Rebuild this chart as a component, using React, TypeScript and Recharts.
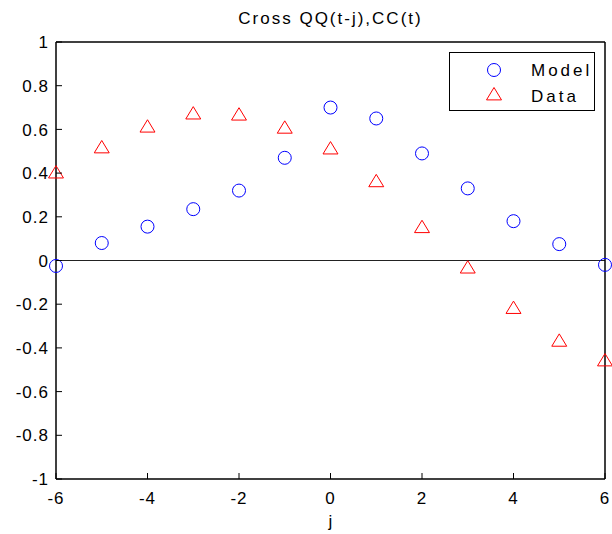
import React from 'react';
import { ScatterChart, Scatter, XAxis, YAxis, ReferenceLine, Legend } from 'recharts';

const lags = [-6, -5, -4, -3, -2, -1, 0, 1, 2, 3, 4, 5, 6];
const modelValues = [-0.025, 0.08, 0.155, 0.235, 0.32, 0.47, 0.7, 0.65, 0.49, 0.33, 0.18, 0.075, -0.02];
const dataValues = [0.4, 0.515, 0.61, 0.67, 0.665, 0.605, 0.51, 0.36, 0.15, -0.035, -0.22, -0.37, -0.46];
const xTicks = [-6, -4, -2, 0, 2, 4, 6];
const yTicks = [-1, -0.8, -0.6, -0.4, -0.2, 0, 0.2, 0.4, 0.6, 0.8, 1];

const modelPoints = lags.map((j, i) => ({ j, v: modelValues[i] }));
const dataPoints = lags.map((j, i) => ({ j, v: dataValues[i] }));

const FONT = '"Liberation Sans", Arial, sans-serif';
const fmt = (v: number) => String(Math.round(v * 10) / 10);
const axisLine = { stroke: '#000', strokeWidth: 1.5 };

const CircleMark = (props: any) => (
  <circle cx={props.cx} cy={props.cy} r={6.5} fill="none" stroke="#0000ff" strokeWidth={1} />
);

const TriangleMark = (props: any) => {
  const { cx, cy } = props;
  const h = 6.5;
  return (
    <polygon
      points={`${cx},${cy - h * 1.15} ${cx - h * 1.15},${cy + h * 0.75} ${cx + h * 1.15},${cy + h * 0.75}`}
      fill="none"
      stroke="#ff0000"
      strokeWidth={1}
    />
  );
};

const BottomTick = (props: any) => (
  <g>
    <line x1={props.x} y1={props.y} x2={props.x} y2={props.y - 6} stroke="#000" />
    <text x={props.x} y={props.y + 25} textAnchor="middle" fontSize={17} fontFamily={FONT} fill="#000" letterSpacing={1}>
      {fmt(props.payload.value)}
    </text>
  </g>
);

const TopTick = (props: any) => (
  <line x1={props.x} y1={props.y} x2={props.x} y2={props.y + 6} stroke="#000" />
);

const LeftTick = (props: any) => (
  <g>
    <line x1={props.x} y1={props.y} x2={props.x + 6} y2={props.y} stroke="#000" />
    <text x={props.x - 7} y={props.y} dy="0.36em" textAnchor="end" fontSize={17} fontFamily={FONT} fill="#000" letterSpacing={1}>
      {fmt(props.payload.value)}
    </text>
  </g>
);

const RightTick = (props: any) => (
  <line x1={props.x} y1={props.y} x2={props.x - 6} y2={props.y} stroke="#000" />
);

const LegendBox = () => (
  <div
    style={{
      width: 144,
      height: 57,
      border: '1px solid #000',
      background: '#fff',
      fontFamily: FONT,
      fontSize: 17,
      position: 'relative',
    }}
  >
    <svg width={144} height={57} style={{ position: 'absolute', left: 0, top: 0 }}>
      <circle cx={44} cy={17} r={6.5} fill="none" stroke="#0000ff" />
      <polygon points="44,34.5 36.5,46.9 51.5,46.9" fill="none" stroke="#ff0000" />
      <text x={81} y={23} fontSize={17} fontFamily={FONT} letterSpacing={3}>Model</text>
      <text x={81} y={49} fontSize={17} fontFamily={FONT} letterSpacing={3}>Data</text>
    </svg>
  </div>
);

export default function App() {
  return (
    <div style={{ position: 'absolute', left: 0, top: 0, width: 612, height: 534, background: '#fff' }}>
      <div
        style={{
          position: 'absolute',
          left: 56,
          width: 549,
          top: 9,
          textAlign: 'center',
          fontFamily: FONT,
          fontSize: 17,
          letterSpacing: 2,
        }}
      >
        Cross QQ(t-j),CC(t)
      </div>
      <div
        style={{
          position: 'absolute',
          left: 56,
          width: 549,
          top: 512,
          textAlign: 'center',
          fontFamily: FONT,
          fontSize: 17,
        }}
      >
        j
      </div>
      <ScatterChart width={612} height={534} margin={{ top: 41, right: 6, bottom: 54, left: 55 }}>
        <XAxis
          xAxisId="b"
          dataKey="j"
          type="number"
          domain={[-6, 6]}
          ticks={xTicks}
          orientation="bottom"
          height={1}
          tickSize={0}
          tickMargin={0}
          tickLine={false}
          axisLine={axisLine}
          tick={<BottomTick />}
          interval={0}
        />
        <XAxis
          xAxisId="t"
          dataKey="j"
          type="number"
          domain={[-6, 6]}
          ticks={xTicks}
          orientation="top"
          height={1}
          tickSize={0}
          tickMargin={0}
          tickLine={false}
          axisLine={axisLine}
          tick={<TopTick />}
          interval={0}
        />
        <YAxis
          yAxisId="l"
          dataKey="v"
          type="number"
          domain={[-1, 1]}
          ticks={yTicks}
          orientation="left"
          width={1}
          tickSize={0}
          tickMargin={0}
          tickLine={false}
          axisLine={axisLine}
          tick={<LeftTick />}
          interval={0}
        />
        <YAxis
          yAxisId="r"
          dataKey="v"
          type="number"
          domain={[-1, 1]}
          ticks={yTicks}
          orientation="right"
          width={1}
          tickSize={0}
          tickMargin={0}
          tickLine={false}
          axisLine={axisLine}
          tick={<RightTick />}
          interval={0}
        />
        <ReferenceLine xAxisId="b" yAxisId="l" y={0} stroke="#222" strokeWidth={1} />
        <Legend
          layout="vertical"
          align="center"
          verticalAlign="middle"
          content={<LegendBox />}
          wrapperStyle={{ position: 'absolute', left: 449, top: 52, width: 146, height: 59 }}
        />
        <Scatter
          name="Model"
          data={modelPoints}
          xAxisId="b"
          yAxisId="l"
          shape={<CircleMark />}
          isAnimationActive={false}
        />
        <Scatter
          name="Data"
          data={dataPoints}
          xAxisId="b"
          yAxisId="l"
          shape={<TriangleMark />}
          isAnimationActive={false}
        />
      </ScatterChart>
    </div>
  );
}
